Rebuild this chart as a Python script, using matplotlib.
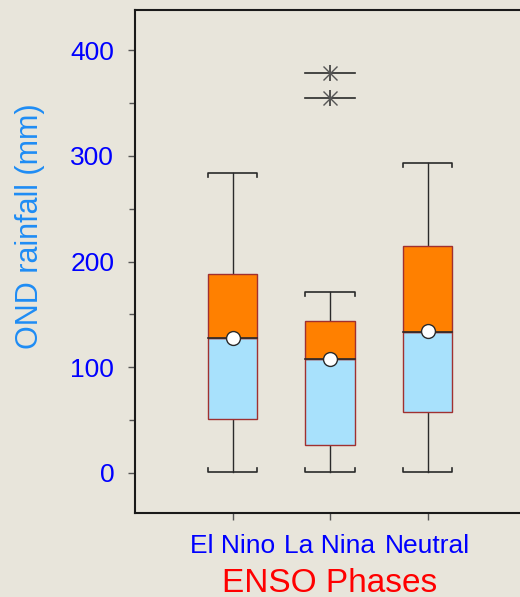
import matplotlib
matplotlib.use("Agg")
import matplotlib.pyplot as plt
from matplotlib.ticker import MultipleLocator

# ENSO phase summary statistics of OND rainfall (mm)
phases = ["El Nino", "La Nina", "Neutral"]
whisker_low = [1, 1, 1]
q1 = [51, 26.5, 58]
median = [127.5, 107.5, 133]
q3 = [188, 143.5, 215]
whisker_high = [284, 171, 293]
means = [128, 108, 134]
outliers = [[], [378, 354.5], []]

bg = "#E8E5DB"
plt.rcParams["font.family"] = ["Liberation Sans", "DejaVu Sans"]

fig = plt.figure(figsize=(5.2, 5.97), dpi=100, facecolor=bg)
ax = fig.add_axes([135 / 520, 84 / 597, 390 / 520, 503 / 597], facecolor=bg)

pos = [1, 2, 3]
w = 0.51
cap_tick = 4.0
edge = "#A03030"
line_c = "#2A2A2A"

for i, x in enumerate(pos):
    # whiskers
    ax.plot([x, x], [q3[i], whisker_high[i]], color=line_c, lw=1.0, zorder=2)
    ax.plot([x, x], [whisker_low[i], q1[i]], color=line_c, lw=1.0, zorder=2)
    # bracket-style caps
    hi, lo = whisker_high[i], whisker_low[i]
    ax.plot([x - w / 2, x - w / 2, x + w / 2, x + w / 2],
            [hi - cap_tick, hi, hi, hi - cap_tick], color=line_c, lw=1.2, zorder=2)
    ax.plot([x - w / 2, x - w / 2, x + w / 2, x + w / 2],
            [lo + cap_tick, lo, lo, lo + cap_tick], color=line_c, lw=1.2, zorder=2)
    # two-tone box
    ax.bar(x, median[i] - q1[i], bottom=q1[i], width=w, color="#A8E1FC",
           edgecolor=edge, lw=1.0, zorder=3)
    ax.bar(x, q3[i] - median[i], bottom=median[i], width=w, color="#FF8000",
           edgecolor=edge, lw=1.0, zorder=3)
    ax.plot([x - w / 2, x + w / 2], [median[i], median[i]], color=line_c, lw=1.2, zorder=4)
    # mean
    ax.plot(x, means[i], marker="o", ms=10, mfc="white", mec=line_c, mew=1.0, zorder=5)
    # outliers
    for v in outliers[i]:
        ax.plot([x - w / 2, x + w / 2], [v, v], color=line_c, lw=1.2, zorder=4)
        ax.plot(x, v, marker="|", ms=12, mew=1.1, color=line_c, zorder=5)
        ax.plot(x, v, marker="x", ms=10, mew=1.0, color="#555555", zorder=5)

ax.set_xlim(0, 4)
ax.set_ylim(-38, 438)
ax.set_xticks(pos)
ax.set_xticklabels(phases)
ax.yaxis.set_major_locator(MultipleLocator(100))
ax.yaxis.set_minor_locator(MultipleLocator(50))
ax.set_yticks([0, 100, 200, 300, 400])

ax.tick_params(axis="y", which="major", length=5, width=1, color="#555555",
               labelsize=19, labelcolor="#0000FF", pad=10)
ax.tick_params(axis="y", which="minor", length=4, width=1, color="#555555")
ax.tick_params(axis="x", which="major", length=5, width=1, color="#555555",
               labelsize=19, labelcolor="#0000FF", pad=10)

for s in ax.spines.values():
    s.set_linewidth(1.5)
    s.set_color("#1A1A1A")

ax.set_ylabel("OND rainfall (mm)", fontsize=22, color="#1E8CF5")
ax.yaxis.set_label_coords(-0.232, 0.571)
ax.set_xlabel("ENSO Phases", fontsize=24, color="#FF0000", labelpad=7)

fig.savefig("out.png", dpi=100, facecolor=bg)
